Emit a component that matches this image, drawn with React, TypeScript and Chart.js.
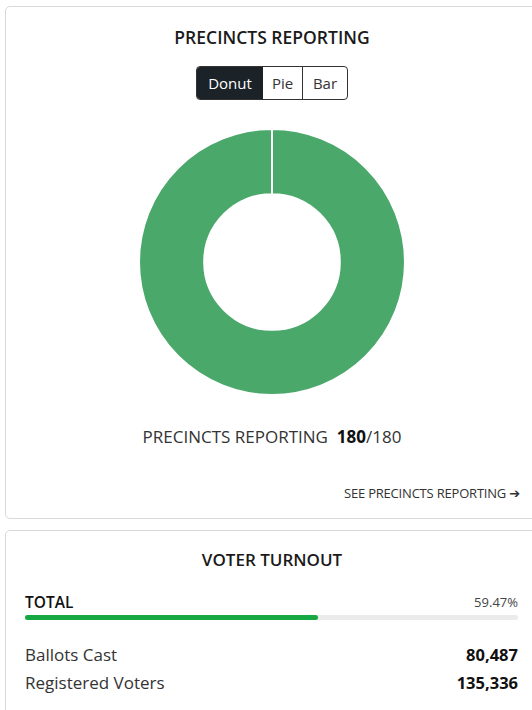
import React, { useEffect, useRef } from "react";
import { Chart, registerables } from "chart.js";

Chart.register(...registerables);

const categories = ["Reporting", "Not Reporting"];
const precinctsReported = 180;
const precinctsTotal = 180;
const seriesValues = [precinctsReported, precinctsTotal - precinctsReported];
const sliceColors = ["#4aa86b", "#e6e6e6"];
const turnoutPercent = 59.47;
const ballotsCast = "80,487";
const registeredVoters = "135,336";

const FONT = "'Open Sans', 'Noto Sans', sans-serif";

export default function App() {
  const ref = useRef<HTMLCanvasElement | null>(null);

  useEffect(() => {
    if (!ref.current) return;
    const chart = new Chart(ref.current, {
      type: "doughnut",
      data: {
        labels: categories,
        datasets: [
          {
            data: seriesValues,
            backgroundColor: sliceColors,
            borderColor: "#ffffff",
            borderWidth: 2,
          },
        ],
      },
      options: {
        responsive: false,
        maintainAspectRatio: false,
        animation: false,
        cutout: "51%",
        layout: { padding: 0 },
        plugins: { legend: { display: false }, tooltip: { enabled: false } },
      },
    });
    return () => chart.destroy();
  }, []);

  const card: React.CSSProperties = {
    position: "absolute",
    left: 5,
    width: 540,
    border: "1px solid #d9d9d9",
    borderRadius: 5,
    background: "#fff",
    boxSizing: "border-box",
  };

  const btn: React.CSSProperties = {
    position: "absolute",
    top: -1,
    height: 34,
    lineHeight: "34px",
    fontSize: 15,
    textAlign: "center",
    boxSizing: "border-box",
  };

  return (
    <div style={{ position: "fixed", left: 0, top: 0, width: 532, height: 710, overflow: "hidden", background: "#fff", fontFamily: FONT, color: "#222" }}>
      <div style={{ ...card, top: 6, height: 513 }} />
      <div style={{ position: "absolute", left: 0, width: 544, top: 25, textAlign: "center", fontSize: 17.5, fontWeight: 600, color: "#1a1a1a" }}>
        PRECINCTS REPORTING
      </div>
      <div style={{ position: "absolute", left: 196, top: 66, width: 152, height: 34, border: "1px solid #333", borderRadius: 4, boxSizing: "border-box", overflow: "hidden" }}>
        <div style={{ ...btn, left: 0, width: 66, background: "#1b2228", color: "#fff" }}>Donut</div>
        <div style={{ ...btn, left: 66, width: 40, borderRight: "1px solid #333", color: "#333" }}>Pie</div>
        <div style={{ ...btn, left: 106, width: 44, color: "#333" }}>Bar</div>
      </div>
      <canvas ref={ref} width={268} height={268} style={{ position: "absolute", left: 138, top: 128, width: 268, height: 268 }} />
      <div style={{ position: "absolute", left: 0, width: 544, top: 425, textAlign: "center", fontSize: 17, color: "#333" }}>
        PRECINCTS REPORTING&nbsp;&nbsp;<b style={{ color: "#111" }}>{precinctsReported}</b>/{precinctsTotal}
      </div>
      <div style={{ position: "absolute", right: 12, top: 484, fontSize: 13, color: "#333", fontFamily: "'Liberation Sans Narrow', 'Open Sans', sans-serif", letterSpacing: -0.2 }}>
        SEE PRECINCTS REPORTING <span style={{ fontFamily: "'DejaVu Sans'", fontWeight: 700, fontSize: 13 }}>➔</span>
      </div>

      <div style={{ ...card, top: 530, height: 200 }} />
      <div style={{ position: "absolute", left: 0, width: 544, top: 548, textAlign: "center", fontSize: 17, fontWeight: 600, color: "#1a1a1a" }}>
        VOTER TURNOUT
      </div>
      <div style={{ position: "absolute", left: 25, top: 591, fontSize: 15.5, fontWeight: 600, color: "#111" }}>TOTAL</div>
      <div style={{ position: "absolute", right: 14, top: 593, fontSize: 13, color: "#444" }}>{turnoutPercent.toFixed(2)}%</div>
      <div style={{ position: "absolute", left: 25, top: 615, width: 493, height: 5, background: "#ebebeb", borderRadius: 3 }}>
        <div style={{ width: `${turnoutPercent}%`, height: "100%", background: "#16a843", borderRadius: 3 }} />
      </div>
      <div style={{ position: "absolute", left: 25, top: 643, fontSize: 17, color: "#333" }}>Ballots Cast</div>
      <div style={{ position: "absolute", right: 14, top: 643, fontSize: 16.5, fontWeight: 700, color: "#111" }}>{ballotsCast}</div>
      <div style={{ position: "absolute", left: 25, top: 671, fontSize: 17, color: "#333" }}>Registered Voters</div>
      <div style={{ position: "absolute", right: 14, top: 671, fontSize: 16.5, fontWeight: 700, color: "#111" }}>{registeredVoters}</div>
    </div>
  );
}
